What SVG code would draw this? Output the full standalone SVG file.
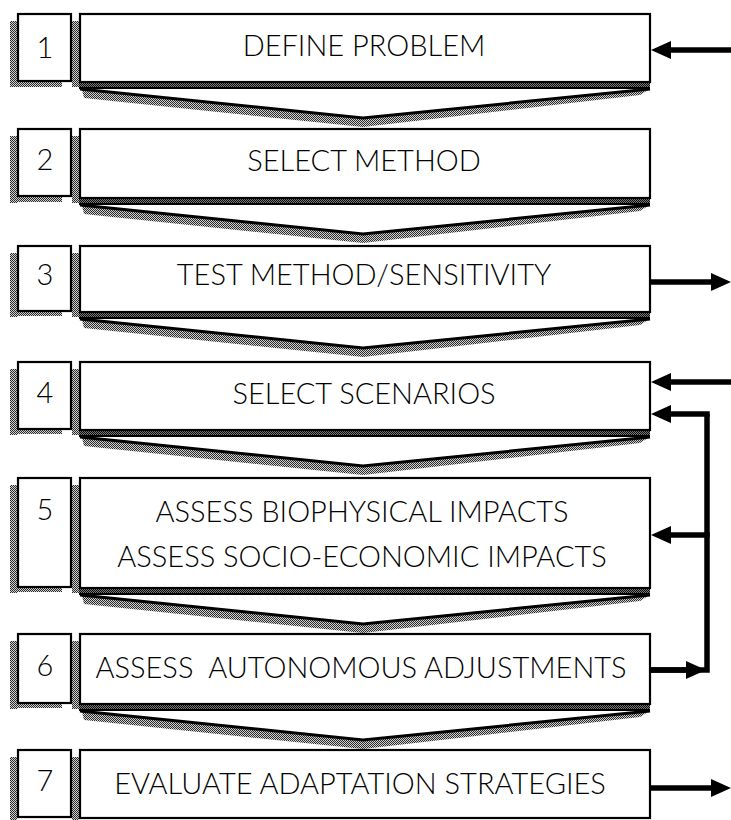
<svg xmlns="http://www.w3.org/2000/svg" xmlns:xlink="http://www.w3.org/1999/xlink" width="731" height="820" viewBox="0 0 731 820">
  <style>
    .box { fill: #ffffff; stroke: #000000; stroke-width: 2.2; }
    .num { font-family: Lato, "Liberation Sans", sans-serif; font-size: 29px; font-weight: 300; fill: #000; text-anchor: middle; }
    .lbl { font-family: Lato, "Liberation Sans", sans-serif; font-size: 29px; font-weight: 300; fill: #000; text-anchor: middle; white-space: pre; }
    .shade { fill: url(#dither); }
    .wire { fill: none; stroke: #000000; stroke-width: 5.5; }
    .arrow { fill: none; stroke: #000000; stroke-width: 5.5; marker-end: url(#head); }
  </style>
  <defs>
    <!-- halftone dither used for shadows -->
    <pattern id="dither" patternUnits="userSpaceOnUse" width="2" height="2">
      <rect x="0" y="0" width="2" height="2" fill="#d0d0d0"/>
      <rect x="0" y="0" width="1" height="1" fill="#2a2a2a"/>
      <rect x="1" y="1" width="1" height="1" fill="#2a2a2a"/>
    </pattern>
    <pattern id="ditherDark" patternUnits="userSpaceOnUse" width="2" height="2">
      <rect x="0" y="0" width="2" height="2" fill="#7a7a7a"/>
      <rect x="0" y="0" width="1" height="1" fill="#0a0a0a"/>
      <rect x="1" y="1" width="1" height="1" fill="#0a0a0a"/>
    </pattern>
    <marker id="head" markerUnits="userSpaceOnUse" markerWidth="22" markerHeight="20" refX="9" refY="9" orient="auto">
      <path d="M0,0 L20,9 L0,18 Z" fill="#000000"/>
    </marker>
    <!-- downward chevron placed under each step, origin at the box bottom -->
    <g id="chev">
      <rect x="79" y="0" width="571" height="6" fill="url(#ditherDark)"/>
      <rect x="79" y="5" width="571" height="2" fill="#000"/>
      <polygon points="82,8 363,37 648,8 640,13 363,45 84,16" fill="url(#dither)"/>
      <polyline points="80,7 363,36 650,7" fill="none" stroke="#000" stroke-width="3"/>
    </g>
  </defs>

  <rect x="0" y="0" width="731" height="820" fill="#ffffff"/>

  <!-- chevrons between steps -->
  <g id="chevrons">
    <use xlink:href="#chev" transform="translate(0,82)"/>
    <use xlink:href="#chev" transform="translate(0,198)"/>
    <use xlink:href="#chev" transform="translate(0,312)"/>
    <use xlink:href="#chev" transform="translate(0,430)"/>
    <use xlink:href="#chev" transform="translate(0,588)"/>
    <use xlink:href="#chev" transform="translate(0,704)"/>
  </g>

  <!-- step 1 -->
  <g id="step1">
    <rect class="shade" x="10" y="21" width="7" height="66"/>
    <rect class="shade" x="10" y="82" width="52" height="5"/>
    <rect class="shade" x="72" y="21" width="7" height="66"/>
    <rect class="box" x="18" y="14" width="53" height="67"/>
    <rect class="box" x="80" y="14" width="570" height="68"/>
    <text class="num" x="45" y="57.5">1</text>
    <text class="lbl" x="364" y="56">DEFINE PROBLEM</text>
  </g>

  <!-- step 2 -->
  <g id="step2">
    <rect class="shade" x="10" y="136" width="7" height="67"/>
    <rect class="shade" x="10" y="197" width="52" height="5"/>
    <rect class="shade" x="72" y="136" width="7" height="67"/>
    <rect class="box" x="18" y="129" width="53" height="67"/>
    <rect class="box" x="80" y="129" width="570" height="69"/>
    <text class="num" x="45" y="170">2</text>
    <text class="lbl" x="364" y="171">SELECT METHOD</text>
  </g>

  <!-- step 3 -->
  <g id="step3">
    <rect class="shade" x="10" y="253" width="7" height="64"/>
    <rect class="shade" x="10" y="311" width="52" height="5"/>
    <rect class="shade" x="72" y="253" width="7" height="64"/>
    <rect class="box" x="18" y="246" width="53" height="65"/>
    <rect class="box" x="80" y="246" width="570" height="66"/>
    <text class="num" x="45" y="285">3</text>
    <text class="lbl" x="364" y="285">TEST METHOD/SENSITIVITY</text>
  </g>

  <!-- step 4 -->
  <g id="step4">
    <rect class="shade" x="10" y="369" width="7" height="66"/>
    <rect class="shade" x="10" y="429" width="52" height="5"/>
    <rect class="shade" x="72" y="369" width="7" height="66"/>
    <rect class="box" x="18" y="362" width="53" height="67"/>
    <rect class="box" x="80" y="362" width="570" height="68"/>
    <text class="num" x="45" y="402.5">4</text>
    <text class="lbl" x="364" y="404">SELECT SCENARIOS</text>
  </g>

  <!-- step 5 -->
  <g id="step5">
    <rect class="shade" x="10" y="485" width="7" height="108"/>
    <rect class="shade" x="10" y="587" width="52" height="5"/>
    <rect class="shade" x="72" y="485" width="7" height="108"/>
    <rect class="box" x="18" y="478" width="53" height="109"/>
    <rect class="box" x="80" y="478" width="570" height="110"/>
    <text class="num" x="45" y="520">5</text>
    <text class="lbl" x="362" y="522">ASSESS BIOPHYSICAL IMPACTS</text>
    <text class="lbl" x="362" y="567">ASSESS SOCIO-ECONOMIC IMPACTS</text>
  </g>

  <!-- step 6 -->
  <g id="step6">
    <rect class="shade" x="10" y="641" width="7" height="68"/>
    <rect class="shade" x="10" y="703" width="52" height="5"/>
    <rect class="shade" x="72" y="641" width="7" height="68"/>
    <rect class="box" x="18" y="634" width="53" height="69"/>
    <rect class="box" x="80" y="634" width="570" height="70"/>
    <text class="num" x="45" y="675.5">6</text>
    <text class="lbl" x="361" y="678">ASSESS  AUTONOMOUS ADJUSTMENTS</text>
  </g>

  <!-- step 7 -->
  <g id="step7">
    <rect class="shade" x="10" y="757" width="7" height="63"/>
    <rect class="shade" x="72" y="757" width="7" height="63"/>
    <rect class="box" x="18" y="750" width="53" height="67"/>
    <rect class="box" x="80" y="750" width="570" height="68"/>
    <text class="num" x="45" y="791">7</text>
    <text class="lbl" x="360" y="794">EVALUATE ADAPTATION STRATEGIES</text>
  </g>

  <!-- connectors -->
  <g id="connectors">
    <line class="arrow" x1="731" y1="50" x2="662" y2="50"/>
    <line class="arrow" x1="651" y1="282" x2="720" y2="282"/>
    <line class="arrow" x1="731" y1="382" x2="662" y2="382"/>
    <polyline class="wire" points="651,670 707,670 707,414"/>
    <line class="arrow" x1="709.7" y1="414" x2="662" y2="414"/>
    <line class="arrow" x1="709.7" y1="535" x2="662" y2="535"/>
    <line class="arrow" x1="651" y1="670" x2="695" y2="670"/>
    <line class="arrow" x1="651" y1="788" x2="720" y2="788"/>
  </g>
</svg>
